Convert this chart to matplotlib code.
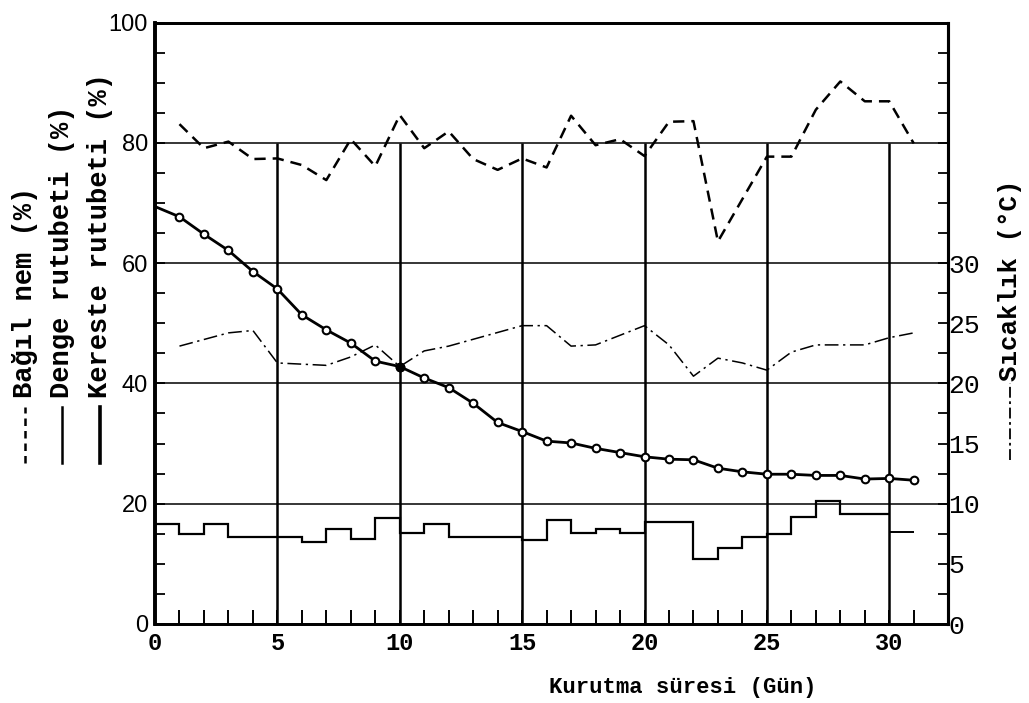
import matplotlib.pyplot as plt
from matplotlib.lines import Line2D
import numpy as np

# Kurutma süresi (gün) ve ölçümler
days = list(range(32))
kereste = [69.4, 67.7, 64.8, 62.1, 58.6, 55.7, 51.4, 48.9, 46.7, 43.7, 42.8,
           40.9, 39.3, 36.7, 33.5, 32.0, 30.4, 30.1, 29.2, 28.5, 27.8, 27.4,
           27.3, 25.9, 25.3, 24.9, 24.9, 24.7, 24.7, 24.1, 24.2, 23.9]

nem_days = [1, 2, 3, 4, 5, 6, 7, 8, 9, 10, 11, 12, 13, 14, 15, 16, 17, 18, 19,
            20, 21, 22, 23, 25, 26, 27, 28, 29, 30, 31]
nem = [83.1, 79.1, 80.2, 77.3, 77.4, 76.3, 73.8, 80.6, 76.1, 84.6, 79.1, 81.9,
       77.3, 75.5, 77.4, 75.9, 84.5, 79.6, 80.6, 77.8, 83.5, 83.6, 63.6, 77.7,
       77.7, 85.5, 90.2, 86.9, 86.9, 79.9]

sicaklik_days = [1, 3, 4, 5, 7, 8, 9, 10, 11, 12, 15, 16, 17, 18, 20, 21, 22,
                 23, 24, 25, 26, 27, 29, 30, 31]
sicaklik = [23.1, 24.2, 24.4, 21.7, 21.5, 22.2, 23.2, 21.4, 22.7, 23.1, 24.8,
            24.8, 23.1, 23.2, 24.8, 23.2, 20.6, 22.1, 21.7, 21.1, 22.6, 23.2,
            23.2, 23.8, 24.2]

denge_edges = [0, 1, 2, 3, 6, 7, 8, 9, 10, 11, 12, 15, 16, 17, 18, 19, 20, 22,
               23, 24, 25, 26, 27, 28, 30]
denge = [16.6, 15.0, 16.7, 14.5, 13.6, 15.8, 14.1, 17.6, 15.1, 16.6, 14.4,
         14.0, 17.3, 15.2, 15.8, 15.1, 17.0, 10.8, 12.7, 14.5, 15.0, 17.8,
         20.5, 18.3]
denge_son_edges = [30, 31]
denge_son = [15.3]

W, H = 1029, 703
fig = plt.figure(figsize=(W / 100, H / 100), dpi=100)
ax = fig.add_axes([155 / W, 1 - 624 / H, 793 / W, 601.5 / H])
ax2 = ax.twinx()

mono = 'Liberation Mono'

ax.set_xlim(0, 32.4)
ax.set_ylim(0, 100)
ax2.set_ylim(0, 50)

# grid
ax.hlines([20, 40, 60, 80], 0, 32.4, color='k', lw=1.1, zorder=1)
ax.vlines([5, 10, 15, 20, 25, 30], 0, 80, color='k', lw=1.8, zorder=1)

# series
ax.plot(nem_days, nem, color='k', lw=1.8, ls=(0, (4.5, 2.8)), zorder=3)
ax2.plot(sicaklik_days, sicaklik, color='k', lw=1.1, ls=(0, (9, 3, 1.5, 3)), zorder=3)
ax.stairs(denge, denge_edges, baseline=None, color='k', lw=1.6, zorder=3)
ax.stairs(denge_son, denge_son_edges, baseline=None, color='k', lw=1.4, zorder=3)
ax.plot(days, kereste, color='k', lw=2.0, marker='o', ms=5.5, mfc='white',
        mec='k', mew=1.5, markevery=list(range(1, len(days))), zorder=4)
ax.plot(days[10], kereste[10], 'o', color='k', ms=6, zorder=5)

# spines
for s, w in [('left', 2.6), ('bottom', 2.0), ('right', 2.2), ('top', 2.0)]:
    ax.spines[s].set_linewidth(w)
    ax2.spines[s].set_linewidth(w)

# ticks
ax.set_xticks([0, 5, 10, 15, 20, 25, 30])
ax.set_xticks(range(0, 32), minor=True)
ax.tick_params(axis='x', which='both', direction='in', length=10, width=1.4,
               pad=6)
ax.set_xticklabels(['0', '5', '10', '15', '20', '25', '30'],
                   fontfamily=mono, fontsize=17, fontweight='bold')

ax.set_yticks(np.arange(0, 101, 5))
ax.set_yticklabels([str(v) if v % 20 == 0 else '' for v in range(0, 101, 5)],
                   fontfamily='Liberation Sans', fontsize=17)
ax.tick_params(axis='y', direction='in', length=7, width=1.3, pad=5)

ax2.set_yticks(np.arange(0, 50, 2.5))
ax2.set_yticklabels([('%d' % v) if (v % 5 == 0 and v <= 30) else ''
                     for v in np.arange(0, 50, 2.5)],
                    fontfamily=mono, fontsize=19)
ax2.tick_params(axis='y', direction='in', length=7, width=1.3, pad=0)

# x label
fig.text(683 / W, 1 - 688 / H, 'Kurutma süresi (Gün)', ha='center', va='center',
         fontfamily=mono, fontsize=16, fontweight='bold')


def fy(y):
    return 1 - y / H


# left labels with line keys
left_labels = ['Bağıl nem (%)', 'Denge rutubeti (%)', 'Kereste rutubeti (%)']
keys = [dict(lw=1.8, ls=(0, (3, 2))), dict(lw=1.8, ls='-'), dict(lw=2.6, ls='-')]
for xp, txt, kw in zip([25, 62, 100], left_labels, keys):
    fig.add_artist(Line2D([xp / W, xp / W], [fy(463), fy(407)], color='k',
                          transform=fig.transFigure, **kw))
    fig.text(xp / W, fy(398), txt, rotation=90, ha='center', va='bottom',
             fontfamily=mono, fontsize=19.5, fontweight='bold')

# right label
fig.add_artist(Line2D([1010 / W, 1010 / W], [fy(460), fy(383)], color='k', lw=1.3,
                      ls=(0, (6, 2, 1.5, 2)), transform=fig.transFigure))
fig.text(1010 / W, fy(381), 'Sıcaklık (°C)', rotation=90, ha='center',
         va='bottom', fontfamily=mono, fontsize=18.5, fontweight='bold')

fig.savefig('out.png', dpi=100)
